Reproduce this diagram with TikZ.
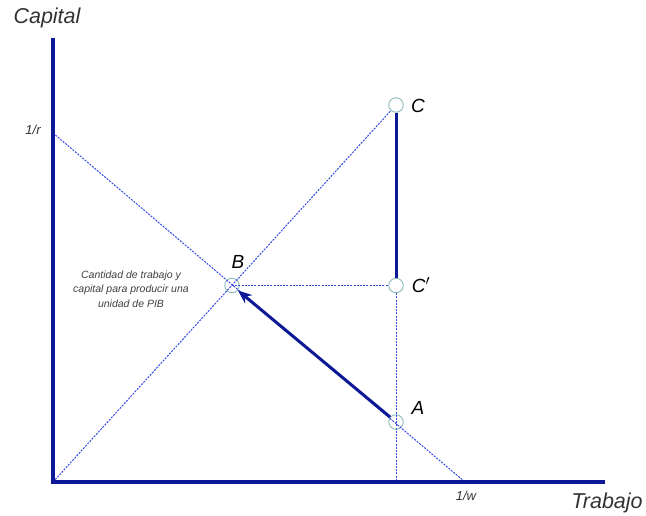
\documentclass[tikz,border=0pt]{standalone}
\usepackage{fontspec}
\setmainfont{Liberation Sans}
\usetikzlibrary{arrows.meta}
\definecolor{axisblue}{RGB}{12,24,150}
\definecolor{lineblue}{RGB}{55,75,225}
\definecolor{ringgray}{RGB}{140,185,185}
\tikzset{
  guide/.style={lineblue, line width=1pt, dash pattern=on 2pt off 1.2pt},
  pointmark/.style={circle, draw=ringgray, line width=0.9pt, minimum size=14.5pt, inner sep=0pt},
  ptlabel/.style={font=\itshape\fontsize{19}{22}\selectfont}
}
\begin{document}
\begin{tikzpicture}[x=1pt, y=-1pt]
\useasboundingbox (0,0) rectangle (646,515);
\coordinate (O) at (53,482); \coordinate (ytop) at (53,38); \coordinate (xend) at (605,482);
\coordinate (r) at (53,133); \coordinate (w) at (465,482); \coordinate (foot) at (396,482);
\node[pointmark] (C) at (396,105) {}; \node[pointmark] (Cp) at (396,285.5) {}; \node[pointmark] (B) at (232,285.5) {}; \node[pointmark] (A) at (396,422) {};
\draw[guide] (r) -- (w); \draw[guide] (O) -- (C); \draw[guide] (B.center) -- (Cp); \draw[guide] (Cp) -- (foot);
\draw[axisblue, line width=4pt] (ytop) -- (O) -- (xend);
\draw[axisblue, line width=3pt] (C) -- (Cp);
\draw[axisblue, line width=3pt, -{Stealth[length=14pt, width=11pt]}] (A) -- (B);
\node[font=\itshape\fontsize{21.5}{24}\selectfont, text=black!80] (capital) at (47,18) {Capital};
\node[font=\itshape\fontsize{21.5}{24}\selectfont, text=black!80] (trabajo) at (607,503) {Trabajo};
\node[font=\itshape\fontsize{13}{15}\selectfont, text=black!80] (rlab) at (33,130) {1/r};
\node[font=\itshape\fontsize{13}{15}\selectfont, text=black!80] (wlab) at (466,496) {1/w};
\node[ptlabel] at (418,106) {C}; \node[ptlabel] at (421,285) {C$'$}; \node[ptlabel] at (418,408) {A}; \node[ptlabel] at (238,262) {B};
\node[font=\itshape\fontsize{10.5}{14.5}\selectfont, text=black!75, align=center] (note) at (131,289) {Cantidad de trabajo y\\capital para producir una\\unidad de PIB};
\end{tikzpicture}
\end{document}
